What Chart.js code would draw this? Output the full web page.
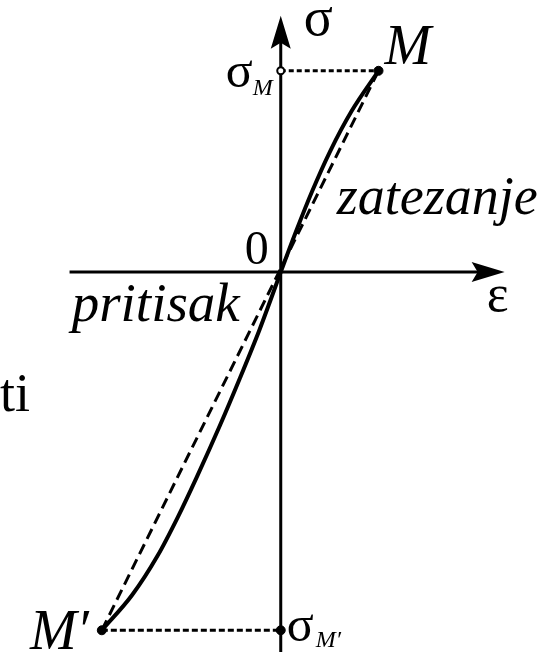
<!DOCTYPE html>
<html>
<head>
<meta charset="utf-8">
<script src="https://cdn.jsdelivr.net/npm/chart.js@4"></script>
<style>
  html, body { margin: 0; padding: 0; background: #fff; }
  #wrap { width: 539px; height: 658px; }
</style>
</head>
<body>
<div id="wrap"><canvas id="diagram"></canvas></div>
<script>
// loading curve, from full compression (M') through 0 to full tension (M)
const strain = [-1.83, -1.52, -1.26, -1.05, -0.86, -0.62, -0.42, -0.22, -0.105, 0, 0.155, 0.32, 0.505, 0.725, 1.0];
const stress = [-356, -321, -282, -243, -204, -152, -106, -58, -28, 0, 40, 80, 120, 160, 200];

// end points: M' in compression, M in tension
const endNames = ["M′", "M"];
const endStrain = [-1.83, 1.0];
const endStress = [-356, 200];

// visible window and axis extents, in strain / stress units
const xRange = [-2.81, 2.58];
const yRange = [-377.6, 264.4];
const axisX = [-2.16, 2.29];
const axisY = [-377.6, 254.6];

const FONT = '"Liberation Serif", "Times New Roman", serif';

function label(ctx, str, px, py, size, italic, align) {
  ctx.font = (italic ? 'italic ' : '') + size + 'px ' + FONT;
  ctx.textAlign = align || 'left';
  ctx.textBaseline = 'alphabetic';
  ctx.fillText(str, px, py);
}

const axesAndLabels = {
  id: 'axesAndLabels',
  beforeDatasetsDraw(chart) {
    const { ctx, scales: { x, y } } = chart;
    const x0 = x.getPixelForValue(0), y0 = y.getPixelForValue(0);
    const left = x.getPixelForValue(axisX[0]), right = x.getPixelForValue(axisX[1]);
    const top = y.getPixelForValue(axisY[1]), bottom = y.getPixelForValue(axisY[0]);
    ctx.save();
    ctx.strokeStyle = '#000';
    ctx.fillStyle = '#000';
    ctx.lineWidth = 3;
    ctx.beginPath();
    ctx.moveTo(left, y0); ctx.lineTo(right - 25, y0);
    ctx.moveTo(x0, bottom); ctx.lineTo(x0, top + 25);
    ctx.stroke();
    // arrow heads
    ctx.beginPath();
    ctx.moveTo(right, y0);
    ctx.lineTo(right - 33, y0 - 10);
    ctx.lineTo(right - 27, y0);
    ctx.lineTo(right - 33, y0 + 10);
    ctx.closePath();
    ctx.fill();
    ctx.beginPath();
    ctx.moveTo(x0, top);
    ctx.lineTo(x0 - 10, top + 33);
    ctx.lineTo(x0, top + 27);
    ctx.lineTo(x0 + 10, top + 33);
    ctx.closePath();
    ctx.fill();
    ctx.restore();
  },
  afterDatasetsDraw(chart) {
    const { ctx, scales: { x, y } } = chart;
    const x0 = x.getPixelForValue(0), y0 = y.getPixelForValue(0);
    const xA = x.getPixelForValue(endStrain[0]), yA = y.getPixelForValue(endStress[0]);
    const xB = x.getPixelForValue(endStrain[1]), yB = y.getPixelForValue(endStress[1]);
    ctx.save();
    ctx.fillStyle = '#000';

    // axis names and origin
    label(ctx, 'σ', x0 + 23, 35, 54, false);
    label(ctx, 'ε', x.getPixelForValue(axisX[1]) - 18, y0 + 39, 52, false);
    label(ctx, '0', x0 - 12, y0 - 8, 48, false, 'right');

    // end point names
    label(ctx, endNames[1], xB + 6, yB - 7, 56, true);
    label(ctx, endNames[0], xA - 13, yA + 19, 56, true, 'right');

    // stress levels on the vertical axis
    label(ctx, 'M', x0 - 8, yB + 24, 24, true, 'right');
    label(ctx, 'σ', x0 - 28, yB + 16, 50, false, 'right');
    label(ctx, 'σ', x0 + 6, yA + 11, 50, false);
    label(ctx, endNames[0], x0 + 35, yA + 17, 24, true);

    // regions
    label(ctx, 'zatezanje', x0 + 56, y0 - 58, 54, true);
    label(ctx, 'pritisak', x0 - 41, y0 + 49, 55, true, 'right');
    label(ctx, 'ti', 0, y0 + 139, 54, false);
    ctx.restore();
  }
};

const curve = strain.map((e, i) => ({ x: e, y: stress[i] }));
const chord = endStrain.map((e, i) => ({ x: e, y: endStress[i] }));
const levelTop = [{ x: 0, y: endStress[1] }, { x: endStrain[1], y: endStress[1] }];
const levelBottom = [{ x: endStrain[0], y: endStress[0] }, { x: 0, y: endStress[0] }];
const marks = [
  { x: endStrain[1], y: endStress[1] },
  { x: endStrain[0], y: endStress[0] },
  { x: 0, y: endStress[1] },
  { x: 0, y: endStress[0] }
];

new Chart(document.getElementById('diagram'), {
  type: 'scatter',
  data: {
    datasets: [
      {
        data: marks,
        showLine: false,
        pointRadius: [4.5, 4.5, 3.5, 4.5],
        pointBorderWidth: [1, 1, 2, 1],
        pointBackgroundColor: ['#000', '#000', '#fff', '#000'],
        pointBorderColor: '#000'
      },
      {
        data: curve,
        showLine: true,
        borderColor: '#000',
        borderWidth: 4,
        pointRadius: 0,
        cubicInterpolationMode: 'monotone'
      },
      {
        data: chord,
        showLine: true,
        borderColor: '#000',
        borderWidth: 3,
        borderDash: [11, 6],
        pointRadius: 0
      },
      {
        data: levelTop,
        showLine: true,
        borderColor: '#000',
        borderWidth: 3,
        borderDash: [5, 3],
        pointRadius: 0
      },
      {
        data: levelBottom,
        showLine: true,
        borderColor: '#000',
        borderWidth: 3,
        borderDash: [6, 3],
        pointRadius: 0
      }
    ]
  },
  options: {
    responsive: true,
    maintainAspectRatio: false,
    animation: false,
    layout: { padding: 0 },
    plugins: { legend: { display: false }, tooltip: { enabled: false } },
    scales: {
      x: { type: 'linear', min: xRange[0], max: xRange[1], display: false },
      y: { type: 'linear', min: yRange[0], max: yRange[1], display: false }
    }
  },
  plugins: [axesAndLabels]
});
</script>
</body>
</html>
